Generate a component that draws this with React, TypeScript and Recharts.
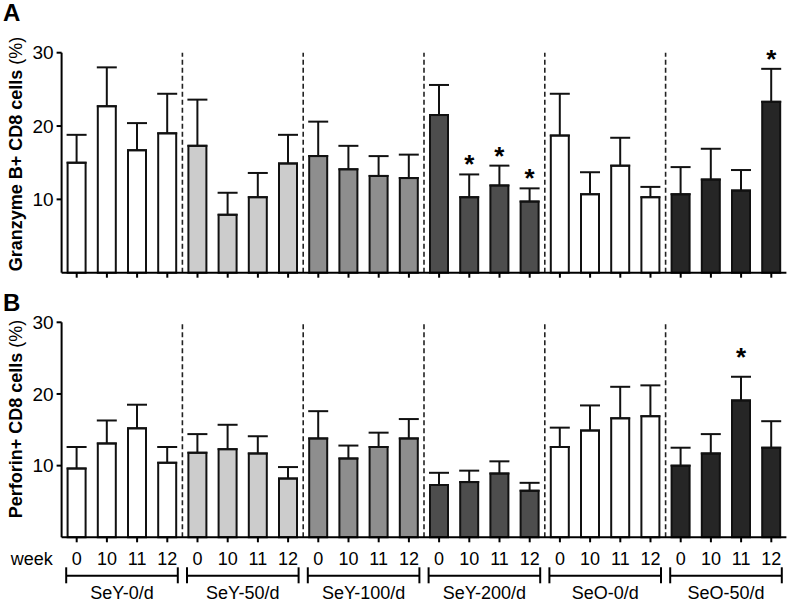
import React from 'react';
import { BarChart, Bar, XAxis, YAxis, ErrorBar, Cell, LabelList, ReferenceLine } from 'recharts';

const groups = ['SeY-0/d', 'SeY-50/d', 'SeY-100/d', 'SeY-200/d', 'SeO-0/d', 'SeO-50/d'];
const weeks = ['0', '10', '11', '12'];
const groupColors = ['#ffffff', '#cccccc', '#8e8e8e', '#4d4d4d', '#ffffff', '#262626'];

// panel A - Granzyme B+ CD8 cells (%)
const granzymeMean = [15.0, 22.7, 16.7, 19.0, 17.3, 7.9, 10.3, 14.9, 15.9, 14.1, 13.2, 12.9, 21.5, 10.3, 11.9, 9.7, 18.7, 10.7, 14.6, 10.3, 10.7, 12.7, 11.2, 23.3];
const granzymeSem = [3.8, 5.3, 3.7, 5.4, 6.3, 3.0, 3.3, 3.9, 4.7, 3.2, 2.7, 3.2, 4.1, 3.1, 2.7, 1.8, 5.7, 3.0, 3.8, 1.4, 3.7, 4.2, 2.8, 4.5];
const granzymeSig = [13, 14, 15, 23];

// panel B - Perforin+ CD8 cells (%)
const perforinMean = [9.6, 13.1, 15.2, 10.4, 11.8, 12.3, 11.7, 8.2, 13.8, 11.0, 12.6, 13.8, 7.3, 7.7, 8.9, 6.5, 12.6, 14.9, 16.6, 16.9, 10.0, 11.7, 19.1, 12.5];
const perforinSem = [3.0, 3.2, 3.3, 2.2, 2.6, 3.4, 2.4, 1.6, 3.8, 1.8, 2.0, 2.7, 1.7, 1.6, 1.7, 1.1, 2.7, 3.5, 4.4, 4.3, 2.5, 2.7, 3.3, 3.7];
const perforinSig = [22];

const yTicks = [10, 20, 30];

const FONT = '"Liberation Sans", Arial, sans-serif';
const W = 789;
const Y_AXIS_W = 61.6;
const M_RIGHT = 2.6;

const rows = groups.flatMap((g, gi) =>
  weeks.map((w, wi) => {
    const i = gi * weeks.length + wi;
    return {
      id: `${g}|${w}`,
      gi,
      gzm: granzymeMean[i],
      gzmErr: [0, granzymeSem[i]],
      gzmSig: granzymeSig.includes(i) ? '*' : '',
      prf: perforinMean[i],
      prfErr: [0, perforinSem[i]],
      prfSig: perforinSig.includes(i) ? '*' : '',
    };
  })
);

const PLOT_W = W - Y_AXIS_W - M_RIGHT;
const BAND = PLOT_W / rows.length;
// first bar of every group but the first gets a dashed divider at its band start
const separators = groups.slice(1).map((_, i) => rows[(i + 1) * weeks.length].id);

const WeekTick = (props: any) => {
  const { x, y, index } = props;
  const wi = index % weeks.length;
  const gi = Math.floor(index / weeks.length);
  const x0 = x - 10.5;
  const x1 = x + (weeks.length - 1) * BAND + 10.5;
  return (
    <g fontFamily={FONT}>
      <text x={x} y={y + 23} textAnchor="middle" fontSize={18} fill="#000">{weeks[wi]}</text>
      {index === 0 && (
        <text x={x - 24} y={y + 23} textAnchor="end" fontSize={18} fill="#000">week</text>
      )}
      {wi === 0 && (
        <g stroke="#000" strokeWidth={2}>
          <line x1={x0} x2={x1} y1={y + 33.4} y2={y + 33.4} />
          <line x1={x0} x2={x0} y1={y + 25} y2={y + 41} />
          <line x1={x1} x2={x1} y1={y + 25} y2={y + 41} />
        </g>
      )}
      {wi === 0 && (
        <text x={(x0 + x1) / 2} y={y + 56.5} textAnchor="middle" fontSize={18} fill="#000">{groups[gi]}</text>
      )}
    </g>
  );
};

const YLab = ({ bold, cy }: { bold: string; cy: number }) => (
  <text
    x={21.5}
    y={cy}
    transform={`rotate(-90, 21.5, ${cy})`}
    textAnchor="middle"
    fontFamily={FONT}
    fontSize={18}
    fill="#000"
  >
    <tspan fontWeight="bold">{bold}</tspan>
    <tspan> (%)</tspan>
  </text>
);

const makeStar = (meanKey: string, errKey: string, gap: number) => (props: any) => {
  const { value, index } = props;
  if (!value) return null;
  const vb = props.viewBox || props;
  const { x, y, width, height } = vb;
  const row: any = rows[index];
  const mean = row[meanKey];
  const sem = row[errKey][1];
  const capY = y - (sem * height) / mean;
  return (
    <text x={x + width / 2} y={capY - gap} textAnchor="middle" fontFamily={FONT} fontSize={26} fontWeight="bold" fill="#000">
      *
    </text>
  );
};

interface PanelProps {
  meanKey: string;
  errKey: string;
  sigKey: string;
  height: number;
  top: number;
  xHeight: number;
  bold: string;
  labelY: number;
  showWeeks: boolean;
  starGap: number;
}

const Panel: React.FC<PanelProps> = ({ meanKey, errKey, sigKey, height, top, xHeight, bold, labelY, showWeeks, starGap }) => (
  <BarChart width={W} height={height} data={rows} margin={{ top, right: M_RIGHT, left: 0, bottom: 0 }} barSize={18}>
    <XAxis
      dataKey="id"
      height={xHeight}
      stroke="#000"
      strokeWidth={2}
      tickSize={5}
      tickMargin={0}
      interval={0}
      tick={showWeeks ? <WeekTick /> : () => <g />}
    />
    <YAxis
      domain={[0, 30]}
      ticks={yTicks}
      width={Y_AXIS_W}
      stroke="#000"
      strokeWidth={2}
      tickSize={5}
      tickMargin={3}
      tick={{ fontSize: 19, fill: '#000', fontFamily: FONT }}
      label={<YLab bold={bold} cy={labelY} />}
    />
    {separators.map((s) => (
      <ReferenceLine key={s} x={s} position="start" stroke="#222" strokeWidth={1.6} strokeDasharray="5 3" />
    ))}
    <Bar dataKey={meanKey} stroke="#111" strokeWidth={2} isAnimationActive={false}>
      {rows.map((r, i) => (
        <Cell key={i} fill={groupColors[r.gi]} />
      ))}
      <ErrorBar dataKey={errKey} width={10} stroke="#111" strokeWidth={2} direction="y" />
      <LabelList dataKey={sigKey} content={makeStar(meanKey, errKey, starGap)} />
    </Bar>
  </BarChart>
);

const Letter = ({ ch, top }: { ch: string; top: number }) => (
  <div style={{ position: 'absolute', left: 3, top, fontFamily: FONT, fontWeight: 'bold', fontSize: 24, lineHeight: '24px' }}>{ch}</div>
);

const App: React.FC = () => (
  <div style={{ position: 'absolute', left: 0, top: 0, width: W, height: 602, background: '#fff', overflow: 'hidden' }}>
    <div style={{ position: 'absolute', left: 0, top: 0 }}>
      <Panel meanKey="gzm" errKey="gzmErr" sigKey="gzmSig" height={290} top={52.7} xHeight={17.3} bold="Granzyme B+ CD8 cells" labelY={154} showWeeks={false} starGap={1} />
    </div>
    <div style={{ position: 'absolute', left: 0, top: 290 }}>
      <Panel meanKey="prf" errKey="prfErr" sigKey="prfSig" height={312} top={32.3} xHeight={64.7} bold="Perforin+ CD8 cells" labelY={129} showWeeks={true} starGap={11} />
    </div>
    <Letter ch="A" top={1.4} />
    <Letter ch="B" top={290.7} />
  </div>
);

export default App;
